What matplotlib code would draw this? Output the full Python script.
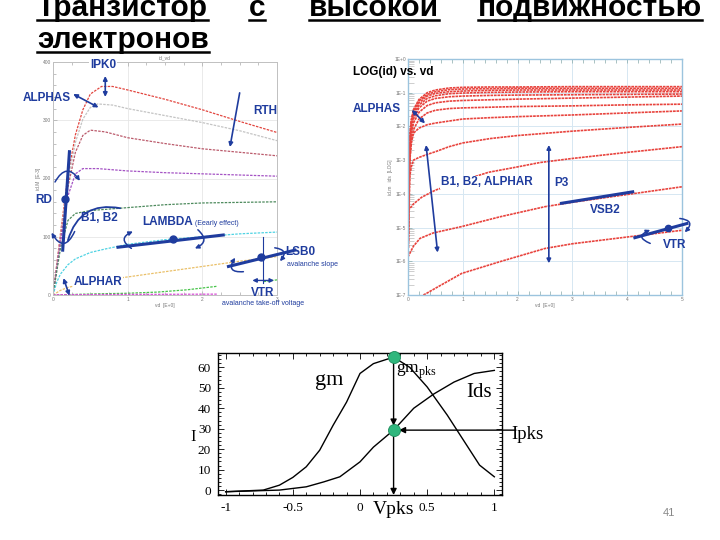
import numpy as np
import matplotlib.pyplot as plt
from matplotlib import font_manager
from matplotlib.patches import FancyArrowPatch
from matplotlib.lines import Line2D
from matplotlib.ticker import MultipleLocator, FixedLocator, FixedFormatter

plt.rcParams['font.family'] = ['Liberation Sans', 'DejaVu Sans']
plt.rcParams['mathtext.fontset'] = 'custom'
plt.rcParams['mathtext.rm'] = 'Liberation Serif'

BLUE = '#1f3c9e'

# ---- title
title_words = ['Транзистор', 'с', 'высокой', 'подвижностью']
title_line2 = 'электронов'

# ---- left chart: id vs vd (linear)
red_v = [0, 0.1, 0.2, 0.3, 0.4, 0.5, 0.65, 0.8, 1.0, 1.5, 2.0, 2.5, 3.0]
red_i = [0, 105, 205, 275, 318, 345, 358, 358, 352, 336, 318, 298, 279]
gray_v = [0, 0.1, 0.2, 0.3, 0.4, 0.5, 0.6, 0.8, 1.0, 1.5, 2.0, 2.5, 3.0]
gray_i = [0, 100, 195, 262, 302, 322, 328, 326, 320, 308, 296, 282, 265]
rose_v = [0, 0.1, 0.2, 0.3, 0.4, 0.5, 0.7, 1.0, 1.5, 2.0, 2.5, 3.0]
rose_i = [0, 95, 185, 245, 274, 283, 280, 270, 260, 251, 245, 239]
purple_v = [0, 0.1, 0.2, 0.3, 0.4, 0.6, 1.0, 1.5, 2.0, 2.5, 3.0]
purple_i = [0, 90, 170, 208, 217, 217, 213, 210, 208, 206, 204]
dgreen_v = [0, 0.1, 0.2, 0.3, 0.5, 1.0, 1.5, 2.0, 2.5, 3.0]
dgreen_i = [0, 80, 128, 140, 145, 150, 155, 158, 159, 160]
cyan_v = [0, 0.05, 0.1, 0.2, 0.3, 0.5, 0.7, 1.0, 1.5, 2.0, 2.5, 3.0]
cyan_i = [0, 22, 36, 52, 62, 73, 79, 87, 95, 100, 105, 108]
yellow_v = [0, 0.1, 0.2, 0.4, 0.7, 1.0, 1.5, 2.0, 2.5, 3.0]
yellow_i = [0, 8, 13, 19, 26, 31, 40, 49, 58, 66]
green_v = [0, 0.3, 0.6, 1.0, 1.4, 1.8, 2.2, np.nan, 2.82, 3.0]
green_i = [0, 1, 2, 3, 5, 9, 15, np.nan, 23, 26]
magenta_v = [0, 1.0, 2.2]
magenta_i = [0.5, 1, 1.5]

# ---- right chart: log(id) vs vd, values are log10(id)
rv = [0.01, 0.03, 0.06, 0.1, 0.2, 0.35, 0.5, 0.75, 1, 1.5, 2, 3, 4, 5]
la = [-4.0, -2.3, -1.8, -1.5, -1.2, -1.0, -0.92, -0.86, -0.84, -0.83, -0.83, -0.82, -0.82, -0.82]
lb = [-4.2, -2.4, -1.85, -1.55, -1.24, -1.05, -0.97, -0.91, -0.89, -0.88, -0.87, -0.87, -0.87, -0.87]
lc = [-4.4, -2.5, -1.9, -1.6, -1.3, -1.1, -1.02, -0.97, -0.95, -0.93, -0.92, -0.92, -0.92, -0.92]
ld = [-4.6, -2.6, -2.0, -1.68, -1.37, -1.17, -1.09, -1.03, -1.01, -0.99, -0.98, -0.97, -0.97, -0.97]
le = [-4.8, -2.7, -2.1, -1.78, -1.45, -1.25, -1.17, -1.12, -1.10, -1.08, -1.07, -1.06, -1.05, -1.04]
lf = [-5.0, -2.9, -2.25, -1.9, -1.58, -1.38, -1.30, -1.25, -1.23, -1.21, -1.19, -1.16, -1.13, -1.10]
lg = [-5.2, -3.1, -2.45, -2.1, -1.78, -1.6, -1.52, -1.47, -1.45, -1.43, -1.41, -1.39, -1.36, -1.34]
lh = [-5.4, -3.0, -2.5, -2.2, -2.05, -1.95, -1.9, -1.84, -1.78, -1.74, -1.71, -1.66, -1.6, -1.54]
li = [-5.6, -3.5, -3.2, -3.0, -2.92, -2.83, -2.75, -2.6, -2.49, -2.36, -2.27, -2.14, -2.03, -1.93]
jv = [0.0, 0.1, 0.25, 0.5, 1.0, 1.47, 2.0, 2.41, 3.0, 4.0, 5.0]
lj = [-4.5, -4.3, -4.1, -3.89, -3.6, -3.36, -3.2, -3.07, -2.95, -2.77, -2.6]
kv = [0.0, 0.1, 0.22, 0.46, 0.98, 1.68, 2.5, 3.0, 4.0, 5.0]
lk = [-5.87, -5.55, -5.32, -5.16, -4.97, -4.68, -4.38, -4.25, -4.02, -3.79]
lv = [0.28, 0.34, 0.5, 0.98, 1.68, 2.5, 3.0, 4.0, 5.0]
ll = [-7.0, -6.95, -6.8, -6.36, -6.01, -5.62, -5.48, -5.28, -5.08]
log_ticks = [1e-7, 1e-6, 1e-5, 1e-4, 1e-3, 1e-2, 1e-1, 1e0]
log_labels = ['1E-7', '1E-6', '1E-5', '1E-4', '1E-3', '1E-2', '1E-1', '1E+0']

# ---- bottom chart: gm and Ids vs Vgs
gm_x = [-1.0, -0.72, -0.6, -0.5, -0.4, -0.3, -0.2, -0.1, 0.0, 0.1, 0.25, 0.37, 0.5, 0.65, 0.77, 0.89, 1.0]
gm_y = [-0.8, 0.0, 2.4, 6.2, 11.4, 19.5, 31.7, 43.0, 57.0, 61.8, 65.0, 60.0, 50.4, 36.6, 24.4, 12.2, 6.5]
ids_x = [-1.0, -0.6, -0.4, -0.27, -0.15, 0.0, 0.1, 0.25, 0.4, 0.55, 0.7, 0.85, 1.0]
ids_y = [-0.8, 0.0, 1.6, 4.0, 6.5, 13.8, 21.0, 29.3, 40.0, 47.0, 52.8, 57.0, 58.5]
b_xticks = [-1, -0.5, 0, 0.5, 1]
b_xlabels = ['-1', '-0.5', '0', '0.5', '1']
b_yticks = [0, 10, 20, 30, 40, 50, 60]


def arrow(ax, p0, p1, style='<|-|>', rad=0.0, lw=1.2, ms=6, color=BLUE):
    ax.add_patch(FancyArrowPatch(p0, p1, arrowstyle=style,
                                 connectionstyle='arc3,rad=%s' % rad,
                                 mutation_scale=ms, color=color, lw=lw,
                                 clip_on=False, zorder=6, shrinkA=0, shrinkB=0))


def label(ax, x, y, s, size=8.5, white=False, **kw):
    bbox = dict(facecolor='white', edgecolor='none', pad=0.5) if white else None
    ax.text(x, y, s, fontsize=size, fontweight='bold', color=BLUE, ha='center',
            va='center', bbox=bbox, zorder=7, clip_on=False, **kw)


def small(ax, x, y, s):
    ax.text(x, y, s, fontsize=5, color=BLUE, ha='center', va='center',
            zorder=7, clip_on=False)


fig = plt.figure(figsize=(7.2, 5.4), dpi=100)

# ================= left chart
axL = fig.add_axes([53 / 720, 1 - 295 / 540, 224 / 720, 233 / 540])
left_curves = [(red_v, red_i, '#e2463f'), (gray_v, gray_i, '#c4c4c4'),
               (rose_v, rose_i, '#bb5b6c'), (purple_v, purple_i, '#a452c4'),
               (dgreen_v, dgreen_i, '#4d8a5d'), (cyan_v, cyan_i, '#4fd3e3'),
               (yellow_v, yellow_i, '#eac069'), (green_v, green_i, '#48c44a'),
               (magenta_v, magenta_i, '#d64fd6')]
for v, i, c in left_curves:
    axL.plot(v, i, color=c, lw=0.9, ls=(0, (2, 1)))
axL.set_xlim(0, 3)
axL.set_ylim(0, 400)
axL.set_xticks([0, 1, 2, 3])
axL.set_yticks([0, 100, 200, 300, 400])
axL.xaxis.set_minor_locator(MultipleLocator(0.25))
axL.yaxis.set_minor_locator(MultipleLocator(20))
axL.tick_params(which='both', direction='in', labelsize=3.5, labelcolor='#777',
                color='#aaa', width=0.5, top=True, pad=1.5)
axL.tick_params(which='major', length=3)
axL.tick_params(which='minor', length=2)
axL.grid(True, color='#e6e6e6', lw=0.6)
for s in axL.spines.values():
    s.set_color('#c0c0c0')
    s.set_linewidth(0.7)
axL.set_title('id_vd', fontsize=3.5, color='#777', pad=2)
axL.set_xlabel('vd  [E+0]', fontsize=3.5, color='#777', labelpad=1)
axL.set_ylabel('id.M  [E-3]', fontsize=3.5, color='#777', labelpad=1)

label(axL, 0.67, 394, 'IPK0', white=True)
arrow(axL, (0.70, 376), (0.70, 340))
label(axL, -0.09, 338, 'ALPHAS')
arrow(axL, (0.27, 345), (0.61, 322))
label(axL, 2.84, 316, 'RTH')
arrow(axL, (2.50, 347), (2.37, 254), style='-|>')
label(axL, -0.13, 163, 'RD')
axL.plot([0.22, 0.13], [246, 77], color=BLUE, lw=2.2, zorder=6, clip_on=False)
axL.plot([0.16], [164], 'o', color=BLUE, ms=5, zorder=6)
arrow(axL, (0.027, 194), (0.36, 196), style='-|>', rad=-0.8, lw=1.1)
arrow(axL, (0.29, 109), (-0.02, 107), style='-|>', rad=-0.95, lw=1.1)
label(axL, 0.62, 133, 'B1, B2')
arrow(axL, (0.90, 149), (0.20, 94), style='-', rad=0.45, lw=1.3)
label(axL, 1.54, 125, 'LAMBDA')
small(axL, 2.2, 123, '(Eearly effect)')
axL.plot([0.87, 2.28], [82, 103], color=BLUE, lw=2.2, zorder=6)
axL.plot([1.61], [96], 'o', color=BLUE, ms=5, zorder=6)
arrow(axL, (1.05, 80), (1.07, 109), style='-|>', rad=-0.9, lw=1.1)
arrow(axL, (1.94, 112), (1.90, 80), style='-|>', rad=-0.77, lw=1.1)
label(axL, 3.31, 74, 'LSB0')
small(axL, 3.48, 52, 'avalanche slope')
axL.plot([2.35, 3.24], [49, 77], color=BLUE, lw=2.2, zorder=6, clip_on=False)
axL.plot([2.79], [65], 'o', color=BLUE, ms=5, zorder=6)
axL.plot([2.81, 2.81], [100, 20], color=BLUE, lw=0.8, zorder=6)
arrow(axL, (2.55, 40), (2.44, 64), style='-|>', rad=-1.0, lw=1.1)
arrow(axL, (2.97, 81), (3.04, 58), style='-|>', rad=-0.9, lw=1.1)
arrow(axL, (2.67, 25), (2.96, 25), lw=1.0)
label(axL, 2.81, 3, 'VTR')
small(axL, 2.81, -14, 'avalanche take-off voltage')
label(axL, 0.60, 23, 'ALPHAR', white=True)
arrow(axL, (0.14, 29), (0.22, -1))

# ================= right chart
axR = fig.add_axes([408 / 720, 1 - 295 / 540, 274 / 720, 236 / 540])
for logs in [la, lb, lc, ld, le, lf, lg, lh, li]:
    axR.plot(rv, 10 ** np.array(logs), color='#e8433d', lw=1.2, ls=(0, (1.6, 0.5)))
axR.plot(jv, 10 ** np.array(lj), color='#e8433d', lw=1.2, ls=(0, (1.6, 0.5)))
axR.plot(kv, 10 ** np.array(lk), color='#e8433d', lw=1.2, ls=(0, (1.6, 0.5)))
axR.plot(lv, 10 ** np.array(ll), color='#e8433d', lw=1.2, ls=(0, (1.6, 0.5)))
axR.set_yscale('log')
axR.set_xlim(0, 5)
axR.set_ylim(1e-7, 1)
axR.set_xticks([0, 1, 2, 3, 4, 5])
axR.yaxis.set_major_locator(FixedLocator(log_ticks))
axR.yaxis.set_major_formatter(FixedFormatter(log_labels))
axR.xaxis.set_minor_locator(MultipleLocator(0.2))
axR.tick_params(which='both', direction='in', labelsize=3.5, labelcolor='#777',
                color='#8aa', width=0.5, top=True, pad=1.5)
axR.tick_params(which='major', length=3)
axR.tick_params(which='minor', length=3)
axR.tick_params(axis='y', which='minor', length=4, color='#bbb')
axR.grid(True, which='major', color='#d6e7f2', lw=0.7)
for s in axR.spines.values():
    s.set_color('#9cc4de')
    s.set_linewidth(1.0)
axR.set_xlabel('vd  [E+0]', fontsize=3.5, color='#777', labelpad=1)
axR.set_ylabel('id.m   ids  [LOG]', fontsize=3.5, color='#777', labelpad=1)

axR.text(-1.0, 10 ** -0.38, 'LOG(id) vs. vd', fontsize=8.5, fontweight='bold',
         color='black', ha='left', va='center', clip_on=False)
label(axR, -0.57, 10 ** -1.48, 'ALPHAS')
arrow(axR, (0.07, 10 ** -1.51), (0.31, 10 ** -1.91))
arrow(axR, (0.33, 10 ** -2.55), (0.54, 10 ** -5.74))
label(axR, 1.44, 10 ** -3.66, 'B1, B2, ALPHAR', white=True)
arrow(axR, (2.57, 10 ** -2.55), (2.57, 10 ** -6.06))
label(axR, 2.79, 10 ** -3.68, 'P3')
axR.plot([2.8, 4.1], [10 ** -4.28, 10 ** -3.94], color=BLUE, lw=2.2, zorder=6)
label(axR, 3.6, 10 ** -4.48, 'VSB2')
axR.plot([4.14, 5.09], [10 ** -5.30, 10 ** -4.88], color=BLUE, lw=2.2,
         zorder=6, clip_on=False)
axR.plot([4.75], [10 ** -5.01], 'o', color=BLUE, ms=4.5, zorder=6)
arrow(axR, (4.42, 10 ** -5.47), (4.42, 10 ** -5.07), style='-|>', rad=-1.2, lw=1.1)
arrow(axR, (4.96, 10 ** -4.73), (5.05, 10 ** -5.14), style='-|>', rad=-1.0, lw=1.1)
label(axR, 4.87, 10 ** -5.52, 'VTR')

# ================= bottom chart
axB = fig.add_axes([218 / 720, 1 - 495 / 540, 284 / 720, 142 / 540])
axB.plot(gm_x, gm_y, color='black', lw=1.0)
axB.plot(ids_x, ids_y, color='black', lw=1.0)
k = int(np.argmax(gm_y))
vpks = gm_x[k]
gmpks = gm_y[k]
ipks = ids_y[ids_x.index(vpks)]
axB.annotate('', xy=(vpks, ipks + 2.2), xytext=(vpks, gmpks),
             arrowprops=dict(arrowstyle='-|>', color='black', lw=1.0,
                             mutation_scale=9, shrinkA=0, shrinkB=0))
axB.annotate('', xy=(vpks, -2.4), xytext=(vpks, ipks),
             arrowprops=dict(arrowstyle='-|>', color='black', lw=1.0,
                             mutation_scale=9, shrinkA=0, shrinkB=0))
axB.annotate('', xy=(vpks + 0.04, ipks), xytext=(1.16, ipks),
             annotation_clip=False,
             arrowprops=dict(arrowstyle='-|>', color='black', lw=1.0,
                             mutation_scale=9, shrinkA=0, shrinkB=0))
axB.scatter([vpks, vpks], [gmpks, ipks], s=75, color='#2fb77d',
            edgecolor='#1d8a5a', linewidth=0.6, zorder=5, clip_on=False)
axB.set_xlim(-1.057, 1.057)
axB.set_ylim(-2.4, 67)
axB.set_xticks(b_xticks)
axB.set_xticklabels(b_xlabels)
axB.set_yticks(b_yticks)
axB.xaxis.set_minor_locator(MultipleLocator(0.1))
axB.yaxis.set_minor_locator(MultipleLocator(2))
axB.tick_params(which='both', direction='in', top=True, right=True,
                labelsize=9.5, width=0.6)
axB.tick_params(which='major', length=4, pad=5)
axB.tick_params(which='minor', length=2)
for t in axB.get_xticklabels() + axB.get_yticklabels():
    t.set_family('Liberation Serif')
for s in axB.spines.values():
    s.set_linewidth(1.0)
serif = dict(family='Liberation Serif', color='black')
axB.text(-0.335, 51.3, 'gm', fontsize=16, ha='left', va='baseline', **serif)
axB.text(0.79, 45.3, 'Ids', fontsize=15, ha='left', va='baseline', **serif)
axB.text(0.268, 57, r'gm$_{\mathrm{pks}}$', fontsize=12.5, ha='left',
         va='baseline', **serif)
axB.text(-1.245, 26, 'I', fontsize=12, ha='center', va='center',
         clip_on=False, **serif)
axB.text(vpks, -9.3, 'Vpks', fontsize=14, ha='center', va='center',
         clip_on=False, **serif)
axB.text(1.13, 27.0, 'Ipks', fontsize=13.5, ha='left', va='center',
         clip_on=False, **serif)

# ================= title and page number
names = {f.name for f in font_manager.fontManager.ttflist}
if 'Liberation Sans Narrow' in names:
    tfam, tsize = ['Liberation Sans Narrow', 'DejaVu Sans'], 26
else:
    tfam, tsize = ['Liberation Sans', 'DejaVu Sans'], 21.5
tfont = dict(family=tfam, fontsize=tsize, fontweight='bold', color='black',
             va='baseline')
t1 = fig.text(37 / 720, 1 - 16 / 540, title_words[0], ha='left', **tfont)
t2 = fig.text(257 / 720, 1 - 16 / 540, title_words[1], ha='center', **tfont)
t3 = fig.text(374 / 720, 1 - 16 / 540, title_words[2], ha='center', **tfont)
t4 = fig.text(702 / 720, 1 - 16 / 540, title_words[3], ha='right', **tfont)
t5 = fig.text(37 / 720, 1 - 48 / 540, title_line2, ha='left', **tfont)
fig.text(669 / 720, 1 - 513 / 540, '41', fontsize=8, color='#888',
         ha='center', va='center')

fig.canvas.draw()
r = fig.canvas.get_renderer()
for t, yl in [(t1, 20), (t2, 20), (t3, 20), (t4, 20), (t5, 52)]:
    bb = t.get_window_extent(r)
    fig.add_artist(Line2D([bb.x0 / 720, bb.x1 / 720], [1 - yl / 540] * 2,
                          transform=fig.transFigure, color='black', lw=1.8))

fig.savefig('out.png', dpi=100)
